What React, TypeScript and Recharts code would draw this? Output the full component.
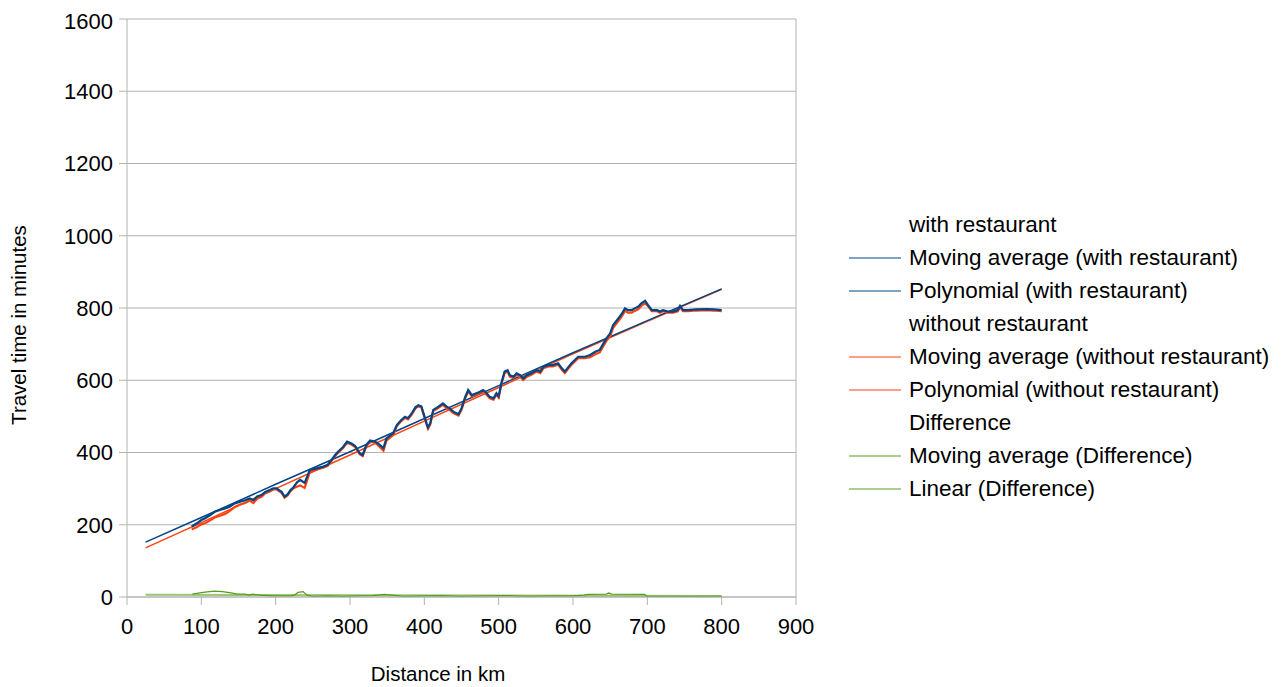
import React from "react";
import { LineChart, Line, XAxis, YAxis, CartesianGrid, ReferenceLine } from "recharts";

// Colours of the three data groups
const BLUE = "#004586";
const ORANGE = "#ff420e";
const GREEN = "#579d1c";

const xTicks = [0, 100, 200, 300, 400, 500, 600, 700, 800, 900];
const yTicks = [0, 200, 400, 600, 800, 1000, 1200, 1400, 1600];

// Moving average of travel time with a restaurant stop [km, minutes]
const movingWith: [number, number][] = [
  [87, 195], [94, 204], [100, 213], [105, 218], [112, 227], [118, 236], [125, 241], [132, 245],
  [138, 250], [145, 259], [152, 264], [159, 268], [165, 273], [170, 268], [175, 278], [181, 282],
  [186, 291], [192, 296], [197, 301], [201, 301], [208, 291], [212, 278], [216, 284], [220, 296],
  [224, 304], [229, 318], [233, 324], [239, 316], [246, 352], [255, 356], [264, 361], [270, 366],
  [275, 379], [280, 393], [284, 402], [291, 416], [296, 430], [302, 425], [307, 418], [313, 398],
  [317, 393], [322, 421], [327, 433], [334, 430], [340, 421], [345, 412], [349, 439], [358, 453],
  [363, 476], [369, 490], [374, 499], [378, 495], [383, 508], [388, 525], [392, 531], [396, 528],
  [399, 508], [403, 481], [405, 469], [408, 481], [412, 518], [419, 527], [425, 536], [430, 527],
  [434, 522], [439, 513], [446, 506], [450, 522], [455, 554], [459, 573], [464, 559], [470, 564],
  [475, 568], [479, 573], [483, 566], [488, 554], [493, 550], [497, 564], [500, 556], [504, 595],
  [508, 624], [512, 628], [515, 614], [520, 610], [524, 619], [529, 614], [533, 605], [538, 614],
  [544, 619], [551, 628], [556, 624], [560, 637], [567, 642], [573, 642], [580, 647], [585, 633],
  [589, 624], [594, 637], [598, 647], [607, 665], [616, 665], [623, 670], [630, 679], [636, 684],
  [641, 702], [645, 716], [650, 730], [654, 753], [661, 771], [666, 785], [670, 799], [674, 794],
  [679, 794], [683, 799], [688, 804], [692, 813], [697, 820], [701, 808], [706, 794], [713, 794],
  [717, 790], [721, 794], [728, 790], [735, 790], [741, 794], [744, 806], [748, 794], [755, 794],
  [766, 796], [780, 797], [789, 796], [800, 794],
];

// Moving average of travel time without a restaurant stop [km, minutes]
const movingWithout: [number, number][] = [
  [87, 187], [94, 194], [100, 201], [105, 204], [112, 212], [118, 220], [125, 225], [132, 230],
  [138, 238], [145, 249], [152, 256], [159, 260], [165, 267], [170, 260], [175, 272], [181, 277],
  [186, 287], [192, 292], [197, 298], [201, 298], [208, 288], [212, 275], [216, 281], [220, 293],
  [224, 301], [229, 306], [233, 309], [239, 302], [246, 346], [255, 353], [264, 358], [270, 363],
  [275, 376], [280, 390], [284, 399], [291, 413], [296, 427], [302, 422], [307, 415], [313, 395],
  [317, 390], [322, 418], [327, 430], [334, 427], [340, 415], [345, 405], [349, 433], [358, 448],
  [363, 473], [369, 487], [374, 496], [378, 492], [383, 505], [388, 522], [392, 528], [396, 525],
  [399, 505], [403, 478], [405, 466], [408, 478], [412, 515], [419, 524], [425, 532], [430, 523],
  [434, 518], [439, 509], [446, 502], [450, 518], [455, 550], [459, 569], [464, 555], [470, 560],
  [475, 564], [479, 569], [483, 562], [488, 550], [493, 546], [497, 560], [500, 552], [504, 591],
  [508, 620], [512, 624], [515, 610], [520, 606], [524, 615], [529, 610], [533, 601], [538, 610],
  [544, 615], [551, 624], [556, 620], [560, 633], [567, 638], [573, 638], [580, 643], [585, 629],
  [589, 620], [594, 633], [598, 643], [607, 661], [616, 661], [623, 664], [630, 672], [636, 677],
  [641, 695], [645, 709], [650, 722], [654, 745], [661, 764], [666, 778], [670, 792], [674, 787],
  [679, 787], [683, 792], [688, 797], [692, 806], [697, 813], [701, 805], [706, 791], [713, 791],
  [717, 787], [721, 791], [728, 787], [735, 787], [741, 791], [744, 803], [748, 791], [755, 791],
  [766, 793], [780, 794], [789, 793], [800, 791],
];

// Moving average of the difference between both [km, minutes]
const movingDiff: [number, number][] = [
  [88, 8], [100, 12], [108, 14], [118, 16], [128, 15], [138, 12], [149, 8], [159, 8], [164, 5],
  [169, 8], [179, 5], [189, 4], [199, 3], [210, 3], [220, 3], [226, 6], [230, 13], [237, 15],
  [242, 5], [250, 2], [270, 3], [290, 2], [310, 3], [330, 4], [346, 7], [356, 5], [372, 2],
  [400, 3], [422, 4], [450, 2], [480, 3], [508, 4], [540, 2], [570, 3], [600, 3], [615, 5],
  [620, 7], [645, 8], [648, 11], [652, 8], [696, 7], [700, 2], [750, 2], [800, 2],
];

// Trend lines [km, minutes]
const polyWith: [number, number][] = [
  [25, 152], [100, 220], [200, 312], [300, 402], [400, 494], [500, 585], [600, 676], [700, 765], [800, 853],
];
const polyWithout: [number, number][] = [
  [25, 136], [100, 206], [200, 300], [300, 393], [400, 487], [500, 580], [600, 673], [700, 763], [800, 852],
];
const linearDiff: [number, number][] = [
  [25, 6], [800, 3],
];

const legendItems: { label: string; color: string | null }[] = [
  { label: "with restaurant", color: null },
  { label: "Moving average (with restaurant)", color: BLUE },
  { label: "Polynomial (with restaurant)", color: BLUE },
  { label: "without restaurant", color: null },
  { label: "Moving average (without restaurant)", color: ORANGE },
  { label: "Polynomial (without restaurant)", color: ORANGE },
  { label: "Difference", color: null },
  { label: "Moving average (Difference)", color: GREEN },
  { label: "Linear (Difference)", color: GREEN },
];

const rows = (pts: [number, number][]) => pts.map(([km, v]) => ({ km, v }));

const FONT = "'Liberation Sans', Arial, sans-serif";
const AXIS_GREY = "#b3b3b3";

export default function App() {
  return (
    <div style={{ position: "relative", width: 1271, height: 679, fontFamily: FONT }}>
      <LineChart
        width={1271}
        height={679}
        margin={{ top: 11, right: 483, left: 0, bottom: 0 }}
      >
        <CartesianGrid stroke={AXIS_GREY} vertical={false} />
        <ReferenceLine x={900} stroke={AXIS_GREY} />
        <XAxis
          type="number"
          dataKey="km"
          domain={[0, 900]}
          ticks={xTicks}
          allowDataOverflow
          height={90}
          stroke={AXIS_GREY}
          tickSize={8}
          tickMargin={13}
          tick={{ fill: "#000", fontSize: 22, fontFamily: FONT }}
          label={{
            content: () => (
              <text x={430} y={665} textAnchor="middle" dominantBaseline="central" fontSize={20.5} fontFamily={FONT} fill="#000">
                Distance in km
              </text>
            ),
          }}
        />
        <YAxis
          type="number"
          dataKey="v"
          domain={[0, 1600]}
          ticks={yTicks}
          width={119}
          stroke={AXIS_GREY}
          tickSize={8}
          tickMargin={6}
          tick={{ fill: "#000", fontSize: 22, fontFamily: FONT }}
          label={{
            content: () => (
              <text
                x={10}
                y={317}
                transform="rotate(-90 10 317)"
                textAnchor="middle"
                dominantBaseline="central"
                fontSize={20.5}
                fontFamily={FONT}
                fill="#000"
              >
                Travel time in minutes
              </text>
            ),
          }}
        />
        <Line data={rows(linearDiff)} dataKey="v" stroke={GREEN} strokeOpacity={0.6} strokeWidth={2} dot={false} isAnimationActive={false} />
        <Line data={rows(movingDiff)} dataKey="v" stroke={GREEN} strokeWidth={1.3} dot={false} isAnimationActive={false} />
        <Line data={rows(polyWithout)} dataKey="v" stroke={ORANGE} strokeWidth={1.5} dot={false} isAnimationActive={false} />
        <Line data={rows(polyWith)} dataKey="v" stroke={BLUE} strokeWidth={1.5} dot={false} isAnimationActive={false} />
        <Line data={rows(movingWithout)} dataKey="v" stroke={ORANGE} strokeWidth={2.2} dot={false} isAnimationActive={false} />
        <Line data={rows(movingWith)} dataKey="v" stroke={BLUE} strokeWidth={2.2} dot={false} isAnimationActive={false} />
      </LineChart>
      <div style={{ position: "absolute", left: 841, top: 200, fontSize: 22.5, color: "#000" }}>
        {legendItems.map((it) => (
          <div key={it.label} style={{ display: "flex", alignItems: "center", height: 33, whiteSpace: "nowrap" }}>
            <svg width={52} height={4} style={{ marginRight: 8, flexShrink: 0 }}>
              {it.color && <line x1={0} y1={2} x2={52} y2={2} stroke={it.color} strokeWidth={1.2} />}
            </svg>
            <span>{it.label}</span>
          </div>
        ))}
      </div>
    </div>
  );
}
